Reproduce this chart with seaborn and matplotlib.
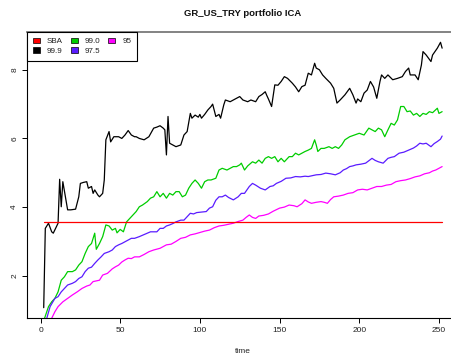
import matplotlib
matplotlib.use("Agg")
import matplotlib.pyplot as plt
from matplotlib.patches import Patch
import seaborn as sns
import pandas as pd

# ---- data -------------------------------------------------------------
sba_value = 3.58
sba_time = [2, 252]

t_999 = [2, 3, 5, 7, 8, 11, 12, 13, 14, 17, 19, 22, 24, 25, 27, 29, 30, 32, 33, 34,
         36, 37, 39, 40, 41, 43, 44, 46, 49, 51, 53, 55, 57, 59, 60, 62, 65, 68, 71, 73,
         75, 77, 78, 79, 80, 81, 83, 85, 88, 90, 92, 94, 95, 97, 99, 100, 101, 103, 105, 107,
         108, 110, 112, 113, 115, 116, 119, 121, 123, 125, 127, 130, 132, 135, 137, 139, 141, 142, 143, 145,
         147, 149, 151, 153, 155, 158, 160, 162, 164, 166, 168, 170, 172, 173, 175, 177, 179, 182, 184, 186,
         188, 191, 194, 196, 198, 199, 201, 203, 205, 207, 209, 211, 213, 214, 216, 218, 221, 224, 227, 229,
         231, 232, 235, 237, 239, 240, 242, 245, 246, 249, 251, 252]
v_999 = [1.07, 3.38, 3.53, 3.28, 3.24, 3.53, 4.81, 4.01, 4.74, 3.92, 3.92, 3.94, 4.30, 4.69, 4.72, 4.74, 4.55, 4.60, 4.40, 4.50,
         4.35, 4.30, 4.40, 4.79, 5.96, 6.20, 5.90, 6.05, 6.05, 6.00, 6.10, 6.23, 6.10, 6.05, 6.05, 6.00, 5.96, 6.05, 6.30, 6.33,
         6.37, 6.30, 6.25, 5.52, 6.64, 5.86, 5.81, 5.76, 5.81, 6.10, 6.20, 6.73, 6.59, 6.68, 6.62, 6.70, 6.59, 6.70, 6.83, 6.93,
         7.00, 6.64, 6.70, 6.59, 6.98, 7.12, 7.07, 7.12, 7.17, 7.22, 7.12, 7.07, 7.12, 7.07, 7.22, 7.28, 7.36, 7.25, 7.15, 6.93,
         7.56, 7.55, 7.66, 7.80, 7.75, 7.61, 7.50, 7.36, 7.51, 7.55, 7.90, 7.85, 8.19, 8.05, 8.00, 7.85, 7.75, 7.61, 7.46, 7.03,
         7.12, 7.27, 7.46, 7.27, 7.03, 7.15, 7.07, 7.32, 7.41, 7.66, 7.50, 7.17, 7.66, 7.85, 7.75, 7.85, 7.71, 7.75, 7.80, 7.95,
         8.05, 7.85, 7.85, 7.71, 8.14, 8.53, 8.43, 8.24, 8.43, 8.63, 8.80, 8.63]

t_990 = [1, 5, 7, 9, 11, 13, 15, 17, 20, 22, 24, 26, 28, 30, 32, 34, 35, 37, 39, 41,
         43, 45, 47, 48, 50, 52, 54, 56, 58, 60, 62, 64, 67, 69, 71, 73, 75, 77, 79, 81,
         83, 85, 87, 89, 91, 93, 95, 97, 99, 101, 103, 105, 107, 110, 112, 114, 117, 119, 121, 123,
         125, 126, 128, 130, 133, 135, 137, 139, 141, 143, 145, 147, 149, 151, 153, 156, 158, 160, 162, 164,
         166, 168, 170, 172, 173, 174, 176, 178, 181, 183, 185, 187, 189, 191, 194, 197, 200, 203, 206, 208,
         210, 212, 214, 216, 218, 220, 222, 224, 226, 228, 230, 232, 234, 236, 238, 240, 242, 244, 246, 249,
         250, 252]
v_990 = [0.55, 1.10, 1.24, 1.34, 1.53, 1.87, 1.97, 2.12, 2.12, 2.17, 2.31, 2.41, 2.65, 2.85, 2.94, 3.24, 2.77, 2.94, 3.14, 3.48,
         3.45, 3.33, 3.38, 3.25, 3.35, 3.28, 3.57, 3.67, 3.77, 3.87, 4.01, 4.06, 4.16, 4.26, 4.30, 4.45, 4.30, 4.40, 4.26, 4.40,
         4.35, 4.45, 4.45, 4.30, 4.35, 4.55, 4.69, 4.79, 4.69, 4.55, 4.74, 4.79, 4.79, 4.84, 5.08, 5.13, 5.08, 5.13, 5.18, 5.18,
         5.23, 5.28, 5.08, 5.20, 5.32, 5.28, 5.37, 5.28, 5.42, 5.47, 5.42, 5.47, 5.32, 5.42, 5.32, 5.47, 5.47, 5.57, 5.52, 5.57,
         5.62, 5.66, 5.71, 5.96, 5.81, 5.62, 5.71, 5.71, 5.76, 5.71, 5.76, 5.71, 5.81, 5.96, 6.05, 6.10, 6.15, 6.10, 6.30, 6.25,
         6.20, 6.30, 6.25, 6.05, 6.25, 6.44, 6.39, 6.54, 6.93, 6.93, 6.78, 6.80, 6.68, 6.73, 6.64, 6.73, 6.70, 6.78, 6.75, 6.88,
         6.73, 6.78]

t_975 = [2, 6, 9, 11, 13, 15, 17, 20, 22, 24, 26, 28, 30, 32, 34, 36, 38, 40, 43, 45,
         47, 49, 51, 53, 55, 57, 59, 62, 65, 67, 69, 73, 75, 77, 79, 81, 83, 85, 88, 90,
         92, 94, 96, 98, 100, 104, 106, 108, 110, 112, 114, 116, 118, 121, 124, 126, 128, 131, 133, 135,
         138, 141, 144, 146, 148, 151, 154, 157, 160, 163, 166, 168, 171, 173, 176, 179, 182, 185, 188, 190,
         192, 194, 196, 198, 201, 204, 206, 208, 210, 212, 215, 218, 220, 222, 225, 228, 231, 234, 236, 238,
         240, 242, 245, 247, 249, 251, 252]
v_975 = [0.45, 1.10, 1.34, 1.39, 1.53, 1.63, 1.73, 1.78, 1.83, 1.92, 1.97, 2.12, 2.22, 2.25, 2.36, 2.46, 2.55, 2.65, 2.70, 2.75,
         2.85, 2.90, 2.94, 2.99, 3.04, 3.09, 3.09, 3.14, 3.20, 3.24, 3.28, 3.28, 3.38, 3.38, 3.45, 3.48, 3.52, 3.57, 3.62, 3.62,
         3.72, 3.82, 3.80, 3.84, 3.85, 3.87, 3.97, 4.01, 4.20, 4.30, 4.30, 4.35, 4.28, 4.21, 4.30, 4.40, 4.40, 4.60, 4.69, 4.64,
         4.55, 4.50, 4.60, 4.62, 4.69, 4.75, 4.84, 4.85, 4.89, 4.88, 4.90, 4.89, 4.92, 4.94, 4.95, 4.99, 4.97, 4.94, 5.00, 5.08,
         5.12, 5.18, 5.20, 5.23, 5.25, 5.28, 5.35, 5.42, 5.36, 5.32, 5.28, 5.42, 5.45, 5.47, 5.57, 5.60, 5.66, 5.72, 5.78, 5.86,
         5.84, 5.86, 5.76, 5.85, 5.91, 5.98, 6.07]

t_95 = [4, 7, 9, 11, 14, 17, 20, 23, 26, 29, 31, 33, 35, 37, 39, 42, 45, 47, 49, 51,
        53, 55, 57, 59, 62, 65, 68, 71, 75, 79, 82, 85, 88, 91, 94, 97, 100, 103, 106, 109,
        112, 115, 118, 121, 124, 127, 129, 131, 133, 135, 137, 140, 143, 146, 150, 153, 156, 159, 161, 164,
        166, 168, 170, 173, 176, 178, 180, 182, 184, 187, 190, 193, 196, 199, 202, 205, 208, 211, 214, 217,
        220, 223, 226, 229, 232, 235, 238, 241, 244, 246, 248, 250, 252]
v_95 = [0.50, 0.76, 0.95, 1.10, 1.24, 1.34, 1.44, 1.53, 1.63, 1.70, 1.73, 1.83, 1.85, 1.87, 2.02, 2.07, 2.20, 2.26, 2.31, 2.40,
        2.46, 2.51, 2.50, 2.55, 2.55, 2.62, 2.70, 2.75, 2.80, 2.90, 2.92, 3.00, 3.09, 3.12, 3.19, 3.22, 3.26, 3.30, 3.33, 3.40,
        3.45, 3.47, 3.50, 3.53, 3.58, 3.62, 3.70, 3.77, 3.70, 3.67, 3.74, 3.76, 3.80, 3.88, 3.97, 4.00, 4.06, 4.04, 4.01, 4.10,
        4.21, 4.15, 4.11, 4.14, 4.16, 4.14, 4.11, 4.22, 4.30, 4.32, 4.35, 4.40, 4.42, 4.50, 4.52, 4.50, 4.55, 4.60, 4.60, 4.64,
        4.66, 4.74, 4.77, 4.79, 4.83, 4.88, 4.91, 4.97, 5.00, 5.05, 5.08, 5.13, 5.18]

labels = ["SBA", "99.9", "99.0", "97.5", "95"]
colors = {"SBA": "#FF0000", "99.9": "#000000", "99.0": "#00CD00",
          "97.5": "#5A1CFF", "95": "#FF00FF"}

x_ticks = [0, 50, 100, 150, 200, 250]
y_ticks = [2, 4, 6, 8]

# ---- style ------------------------------------------------------------
sns.set_theme(style="ticks")
plt.rcParams["font.family"] = ["Liberation Sans", "DejaVu Sans"]

fig = plt.figure(figsize=(4.52, 3.6), dpi=100)
# plot region runs a little past the right edge of the canvas
ax = fig.add_axes([0.0604, 0.1158, 0.953, 0.7962])

series = [
    ("99.9", t_999, v_999),
    ("99.0", t_990, v_990),
    ("97.5", t_975, v_975),
    ("95", t_95, v_95),
]
for name, t, v in series:
    df = pd.DataFrame({"time": t, "value": v})
    sns.lineplot(data=df, x="time", y="value", color=colors[name], lw=0.9,
                 estimator=None, sort=False, legend=False, ax=ax)

sba_df = pd.DataFrame({"time": sba_time, "value": [sba_value] * len(sba_time)})
sns.lineplot(data=sba_df, x="time", y="value", color=colors["SBA"], lw=0.9,
             estimator=None, legend=False, ax=ax)

ax.set_xlim(-8.3, 262)
ax.set_ylim(0.76, 9.11)
ax.set_xticks(x_ticks)
ax.set_yticks(y_ticks)
ax.set_xticklabels([str(v) for v in x_ticks])
ax.set_yticklabels([str(v) for v in y_ticks], rotation=90, va="center")
ax.tick_params(axis="both", direction="out", length=3.6, width=0.7,
               color="black", labelsize=6.0, labelcolor="#222222", pad=3.0)

for side in ("left", "bottom"):
    ax.spines[side].set_color("black")
    ax.spines[side].set_linewidth(0.8)
ax.spines["top"].set_color("#7a7a7a")
ax.spines["top"].set_linewidth(1.3)
ax.spines["right"].set_visible(False)

ax.set_ylabel("")
ax.set_xlabel("time", fontsize=6.0, color="#222222")
ax.xaxis.set_label_coords(0.5, -0.1165)
ax.xaxis.label.set_va("center")

ax.text(0.5, 1.0618, "GR_US_TRY portfolio ICA", transform=ax.transAxes,
        ha="center", va="center", fontsize=6.8, fontweight="bold", color="#111111")

handles = [Patch(facecolor=colors[n], edgecolor="black", linewidth=0.5, label=n)
           for n in labels]
leg = ax.legend(handles=handles, ncol=3, loc="upper left", bbox_to_anchor=(0, 1),
                borderaxespad=0, fontsize=5.8, frameon=True, fancybox=False,
                handlelength=0.8, handleheight=0.7, handletextpad=0.9,
                columnspacing=1.0, labelspacing=0.25, borderpad=0.75)
leg.get_frame().set_edgecolor("black")
leg.get_frame().set_linewidth(0.8)
leg.get_frame().set_alpha(1)
for txt in leg.get_texts():
    txt.set_color("#222222")

fig.savefig("out.png", dpi=100)
